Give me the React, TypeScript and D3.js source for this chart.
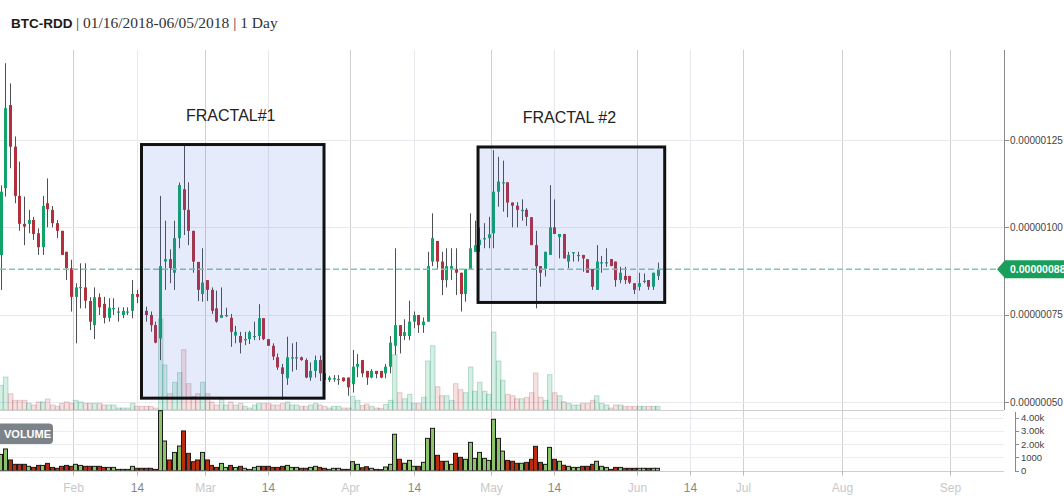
import React from 'react';
import * as d3 from 'd3';

// ---------- DATA (prices in satoshi = 1e-8 BTC) ----------
const SYMBOL = 'BTC-RDD';
const START = '2018-01-16';
const END = '2018-06-05';
const INTERVAL = '1 Day';

const opens = [92.1,111.2,135.0,123.1,109.0,101.0,101.0,102.1,98.3,94.3,106.9,105.0,101.2,99.0,93.0,88.3,
  80.1,82.8,82.8,78.9,72.0,80.0,78.1,74.1,76.8,75.9,74.9,75.9,76.1,80.9,78.7,76.1,74.9,72.0,68.2,90.2,90.9,87.0,96.9,110.9,105.0,99.0,90.1,80.9,
  84.9,82.1,76.8,74.1,74.9,74.1,69.0,68.9,68.0,68.0,68.9,68.9,74.0,68.0,66.1,62.8,59.9,56.8,62.8,62.8,62.8,62.0,57.0,58.9,62.0,58.2,56.3,56.8,56.6,57.0,57.0,
  55.1,60.1,62.0,58.9,57.0,58.9,58.9,58.2,60.1,66.1,72.0,68.9,68.9,73.0,74.9,72.0,73.0,90.2,96.1,90.2,84.9,88.1,88.1,87.0,80.9,88.1,93.0,94.9,96.9,96.9,
  98.3,110.2,112.9,112.9,107.1,106.2,105.0,105.0,102.9,94.9,88.9,88.1,92.1,100.0,97.2,98.1,90.2,92.9,92.1,92.1,90.9,88.1,82.1,90.0,90.0,90.9,90.2,84.9,86.1,86.1,84.0,
  83.0,84.7,84.9,83.0,86.1];
const highs = [112.0,147.0,141.2,126.0,118.8,108.8,105.0,103.0,99.7,109.0,114.0,106.1,102.1,99.0,93.0,90.7,
  84.0,89.7,89.7,80.0,82.8,81.1,80.1,79.7,79.7,77.1,77.1,77.1,84.9,82.1,79.5,77.3,75.9,73.0,109.0,101.9,93.7,101.9,112.8,124.1,112.9,99.0,90.1,94.0,
  84.9,82.8,81.9,82.8,77.0,75.2,71.8,70.1,70.1,70.4,73.0,78.0,74.0,68.0,66.8,63.9,60.9,68.7,66.8,67.2,63.0,62.5,61.3,63.3,63.3,58.5,57.5,57.7,57.7,57.0,57.0,
  64.9,63.7,62.0,58.9,59.4,58.9,58.9,60.9,68.9,94.0,72.0,73.7,79.0,75.9,74.9,74.2,93.0,104.0,96.1,93.0,94.0,94.0,94.0,87.0,88.1,104.0,101.9,100.0,101.2,103.0,
  122.1,120.2,119.1,112.9,107.1,107.2,108.0,105.5,102.9,99.0,88.9,93.0,112.1,108.0,98.1,98.1,93.0,92.9,93.0,92.1,90.9,88.1,94.9,91.8,94.0,90.9,90.2,88.7,88.7,86.1,84.0,
  87.0,86.8,84.9,87.0,89.9];
const lows = [82.1,108.8,116.9,106.9,99.0,94.9,98.3,96.4,92.1,92.1,100.0,100.0,96.9,92.1,84.9,75.9,
  66.8,76.8,76.8,70.6,68.0,74.9,72.5,73.0,74.9,73.0,74.0,74.9,74.0,78.3,76.5,73.0,70.1,66.8,62.0,82.1,84.0,82.1,94.0,97.8,94.9,87.0,78.9,78.7,
  78.9,75.2,72.7,74.1,74.3,65.8,66.8,63.9,66.3,66.6,67.7,67.7,67.7,66.1,62.0,59.2,50.6,54.9,58.7,59.2,61.8,56.8,56.1,57.0,56.0,56.0,55.7,55.8,54.9,55.8,51.8,
  52.7,57.1,57.1,54.9,56.8,56.8,56.8,56.8,58.2,63.5,63.9,67.7,67.7,71.1,69.8,69.8,73.0,88.9,87.8,80.6,82.8,84.9,80.6,75.9,78.7,88.1,93.0,93.0,94.0,94.0,
  94.0,105.9,104.5,102.9,100.0,100.0,101.9,100.4,94.9,76.8,83.0,85.9,92.1,98.1,91.1,91.1,88.3,90.2,90.2,87.3,87.0,82.1,82.1,87.0,88.7,88.9,83.0,84.0,83.8,83.8,80.9,
  81.9,84.0,82.1,82.1,84.9];
const closes = [110.2,134.1,123.1,109.0,101.0,100.2,102.1,98.1,94.3,106.1,105.2,101.2,99.0,92.1,88.3,80.1,
  82.8,82.9,79.0,73.0,80.0,77.1,74.1,77.0,76.9,75.9,76.1,75.9,80.9,80.1,77.3,74.9,72.0,67.0,88.9,90.9,88.3,96.9,112.1,105.0,99.0,90.2,82.1,84.2,
  82.1,76.1,73.0,74.9,74.9,70.1,70.1,67.0,68.0,70.0,68.9,74.0,68.0,66.1,63.0,59.9,58.0,62.8,62.8,62.8,62.0,57.0,58.9,62.0,58.2,56.3,57.0,56.8,56.6,56.0,54.2,
  60.1,60.9,58.2,57.0,58.9,58.0,57.0,60.1,67.0,72.0,68.9,70.0,73.0,74.9,72.0,73.0,88.9,96.9,90.2,84.9,88.9,88.9,87.0,80.9,88.1,94.0,94.9,96.5,96.9,98.0,
  110.2,113.1,112.9,107.1,106.2,105.0,105.0,103.0,94.9,88.9,87.0,93.0,100.0,98.1,98.1,91.1,92.1,92.9,92.1,91.1,87.0,83.0,90.2,90.0,90.0,88.9,84.9,87.0,84.9,84.2,82.1,
  84.0,84.7,83.0,87.0,88.1];
const volumes = [1230,1640,810,480,480,480,330,250,400,400,550,250,180,330,400,330,
  480,400,330,330,330,330,250,250,250,100,100,100,330,180,180,180,180,100,4530,2240,810,1380,1860,3000,1310,680,810,1380,
  810,400,250,550,250,400,250,330,180,100,250,330,330,330,250,250,330,400,250,250,180,180,250,330,250,180,100,180,180,100,100,
  680,480,220,300,180,100,80,280,480,2750,860,560,780,330,330,630,2440,3200,1160,710,710,480,1310,1010,860,2140,930,1380,930,780,
  3880,2440,1480,780,710,560,560,630,860,1840,630,480,1760,860,710,410,330,250,250,330,330,480,710,330,250,100,250,250,180,180,180,
  180,180,180,180,180];

const priceTicks = [50, 75, 100, 125];
const lastPrice = 88;
const volTicks = [0, 1000, 2000, 3000, 4000];
const volTickLabels = ['0', '1000', '2.00k', '3.00k', '4.00k'];
const xTickDates = ['2018-02-01 00:00','2018-02-14 12:00','2018-03-01 00:00','2018-03-14 12:00','2018-04-01 00:00','2018-04-14 12:00',
  '2018-05-01 00:00','2018-05-14 12:00','2018-06-01 00:00','2018-06-14 12:00','2018-07-01 00:00','2018-08-01 00:00','2018-09-01 00:00'];
const xTickLabels = ['Feb','14','Mar','14','Apr','14','May','14','Jun','14','Jul','Aug','Sep'];

const fractalLabels = ['FRACTAL#1', 'FRACTAL #2'];
const fractalStart = ['2018-02-15 12:45', '2018-04-28 05:30'];
const fractalEnd = ['2018-03-26 10:00', '2018-06-07 08:00'];
const fractalTop = [123.7, 123.0];
const fractalBottom = [51.1, 78.5];

// ---------- LAYOUT ----------
const W = 1064, H = 500;
const plotRight = 1004;
const mainTop = 50, mainBottom = 410, volBottom = 470.7;
const xBreaks = ['2018-02-01 00:00','2018-06-06 00:00','2018-06-14 12:00','2018-07-01 00:00','2018-08-01 00:00','2018-09-01 00:00'];
const xBreakPos = [73.3, 660, 690, 743.3, 842.3, 950.3];

const parse = d3.utcParse('%Y-%m-%d %H:%M');
const SANS = '"Liberation Sans", Arial, sans-serif';
const GREEN = '#12a36b';
const RED = '#b2303b';
const fmtDate = d3.utcFormat('%m/%d/%Y');

export default function App() {
  const x = d3.scaleUtc().domain(xBreaks.map(s => parse(s) as Date)).range(xBreakPos);
  const y = d3.scaleLinear().domain([50, 125]).range([402, 140]);
  const yVol = d3.scaleLinear().domain([0, 4000]).range([volBottom, 417.7]);
  const yOv = d3.scaleLinear().domain([0, 4000]).range([mainBottom, 329.6]);

  const start = parse(START + ' 00:00') as Date;
  const end = parse(END + ' 00:00') as Date;
  const days = d3.utcDay.range(start, d3.utcDay.offset(end, 1));
  const candles = days.map((d, i) => ({
    o: opens[i], h: highs[i], l: lows[i], c: closes[i], v: volumes[i],
    cx: x(d3.utcHour.offset(d, 12)),
  }));
  const step = x(d3.utcDay.offset(start, 1)) - x(start);

  const fmtPrice = (v: number) => (v * 1e-8).toFixed(8);

  return (
    <svg width={W} height={H} style={{ position: 'absolute', left: 0, top: 0, background: '#fff' }}
      xmlns="http://www.w3.org/2000/svg">
      <defs>
        <clipPath id="mainClip"><rect x={0} y={mainTop} width={plotRight} height={mainBottom - mainTop} /></clipPath>
        <clipPath id="volClip"><rect x={0} y={mainBottom} width={plotRight} height={volBottom - mainBottom} /></clipPath>
      </defs>
      <rect x={0} y={0} width={W} height={H} fill="#fff" />

      {/* vertical grid */}
      {xTickDates.map((s, i) => {
        const xx = Math.round(x(parse(s) as Date)) + 0.5;
        const major = xTickLabels[i] !== '14';
        return <line key={'vg' + i} x1={xx} x2={xx} y1={mainTop} y2={volBottom} stroke={major ? '#d0d0d0' : '#e6e6ec'} strokeWidth={1} />;
      })}
      {/* horizontal price grid */}
      {priceTicks.map((p, i) => (
        <line key={'hg' + i} x1={0} x2={plotRight} y1={Math.round(y(p)) + 0.5} y2={Math.round(y(p)) + 0.5} stroke="#e9e9ef" />
      ))}
      {/* volume grid */}
      {volTicks.slice(1).map((v, i) => (
        <line key={'vgr' + i} x1={0} x2={plotRight} y1={Math.round(yVol(v)) + 0.5} y2={Math.round(yVol(v)) + 0.5} stroke="#ececf0" />
      ))}
      <line x1={0} x2={plotRight} y1={mainBottom + 0.5} y2={mainBottom + 0.5} stroke="#d0d0d0" />
      <line x1={0} x2={plotRight} y1={Math.round(volBottom) + 0.5} y2={Math.round(volBottom) + 0.5} stroke="#cfcfcf" />

      {/* overlay volume in main pane */}
      <g clipPath="url(#mainClip)">
        {candles.map((k, i) => {
          const up = k.c >= k.o;
          const x0 = Math.round(k.cx - step / 2) + 0.5;
          const top = yOv(k.v);
          return <rect key={'ov' + i} x={x0} y={top} width={Math.round(step) - 0.5} height={mainBottom - top}
            fill={up ? 'rgba(0,160,95,0.17)' : 'rgba(200,70,70,0.17)'}
            stroke={up ? 'rgba(0,120,70,0.22)' : 'rgba(150,60,60,0.22)'} strokeWidth={1} />;
        })}
        {/* candles */}
        {candles.map((k, i) => {
          const up = k.c >= k.o;
          const cxr = Math.round(k.cx);
          const bt = y(Math.max(k.o, k.c));
          const bb = y(Math.min(k.o, k.c));
          return (
            <g key={'c' + i}>
              <line x1={cxr + 0.5} x2={cxr + 0.5} y1={y(k.h)} y2={y(k.l)} stroke="#4d4f55" strokeWidth={1} />
              <rect x={cxr - 1} y={bt} width={3} height={Math.max(1.2, bb - bt)} fill={up ? GREEN : RED} />
            </g>
          );
        })}
        {/* last price dashed line */}
        <line x1={0} x2={plotRight} y1={y(lastPrice)} y2={y(lastPrice)} stroke="#7cc7a9" strokeWidth={1.5} strokeDasharray="6 3" />
      </g>

      {/* fractal boxes */}
      {fractalLabels.map((lab, i) => {
        const x0 = x(parse(fractalStart[i]) as Date);
        const x1 = x(parse(fractalEnd[i]) as Date);
        const y0 = y(fractalTop[i]);
        const y1 = y(fractalBottom[i]);
        return (
          <g key={'fr' + i}>
            <rect x={x0} y={y0} width={x1 - x0} height={y1 - y0} fill="rgba(60,100,225,0.13)" stroke="#111" strokeWidth={3} />
            <text x={(x0 + x1) / 2 - 2} y={y0 - 24} textAnchor="middle" fontFamily={SANS} fontSize={16} fill="#222">{lab}</text>
          </g>
        );
      })}

      {/* volume bars */}
      <g clipPath="url(#volClip)">
        {candles.map((k, i) => {
          const up = k.c >= k.o;
          const x0 = Math.round(k.cx - step / 2) + 0.5;
          const top = yVol(k.v);
          return <rect key={'vb' + i} x={x0} y={top} width={Math.round(step) - 1} height={volBottom - top}
            fill={up ? '#8cc26a' : '#b92c0e'} stroke="#1b1b1b" strokeWidth={1} />;
        })}
      </g>

      {/* price axis */}
      <line x1={plotRight + 0.5} x2={plotRight + 0.5} y1={mainTop} y2={mainBottom} stroke="#8a8a8a" />
      {priceTicks.map((p, i) => (
        <g key={'pt' + i}>
          <line x1={plotRight} x2={plotRight + 5} y1={Math.round(y(p)) + 0.5} y2={Math.round(y(p)) + 0.5} stroke="#8a8a8a" />
          <text x={plotRight + 6} y={y(p) + 3.5} fontFamily={SANS} fontSize={10} fill="#444">{fmtPrice(p)}</text>
        </g>
      ))}
      {/* last price tag */}
      <g>
        <path d={`M${plotRight - 7},${y(lastPrice)} L${plotRight + 1},${y(lastPrice) - 9} L${W},${y(lastPrice) - 9} L${W},${y(lastPrice) + 9} L${plotRight + 1},${y(lastPrice) + 9} Z`}
          fill="#1a9e5c" />
        <text x={plotRight + 6} y={y(lastPrice) + 3.8} fontFamily={SANS} fontSize={10.5} fontWeight="bold" fill="#fff">{fmtPrice(lastPrice)}</text>
      </g>

      {/* volume axis */}
      <line x1={1015.5} x2={1015.5} y1={412} y2={volBottom + 1} stroke="#8a8a8a" />
      {volTicks.map((v, i) => (
        <g key={'vt' + i}>
          <line x1={1015} x2={1019} y1={Math.round(yVol(v)) + 0.5} y2={Math.round(yVol(v)) + 0.5} stroke="#8a8a8a" />
          <text x={1021} y={yVol(v) + 3.5} fontFamily={SANS} fontSize={9.5} fill="#444">{volTickLabels[i]}</text>
        </g>
      ))}

      {/* x axis ticks & labels */}
      {xTickDates.map((s, i) => {
        const xx = Math.round(x(parse(s) as Date)) + 0.5;
        const major = xTickLabels[i] !== '14';
        return (
          <g key={'xt' + i}>
            <line x1={xx} x2={xx} y1={volBottom} y2={volBottom + 5} stroke="#bbb" />
            <text x={xx} y={492} textAnchor="middle" fontFamily={SANS} fontSize={12} fill={major ? '#c8c8c8' : '#888'}>{xTickLabels[i]}</text>
          </g>
        );
      })}

      {/* volume badge */}
      <rect x={-4} y={423.5} width={57} height={20.5} rx={4} fill="#7c8388" />
      <text x={4} y={438} fontFamily={SANS} fontSize={11} fontWeight="bold" fill="#fff">VOLUME</text>

      {/* title */}
      <text x={11} y={28} fontFamily={SANS} fontWeight="bold" fontSize={13.5} fill="#1a1a1a">{SYMBOL}</text>
      <text x={76} y={28} fontFamily={'"Liberation Serif", "DejaVu Serif", serif'} fontSize={15.5} fill="#333">
        {`| ${fmtDate(start)}-${fmtDate(end)} | ${INTERVAL}`}
      </text>
    </svg>
  );
}
